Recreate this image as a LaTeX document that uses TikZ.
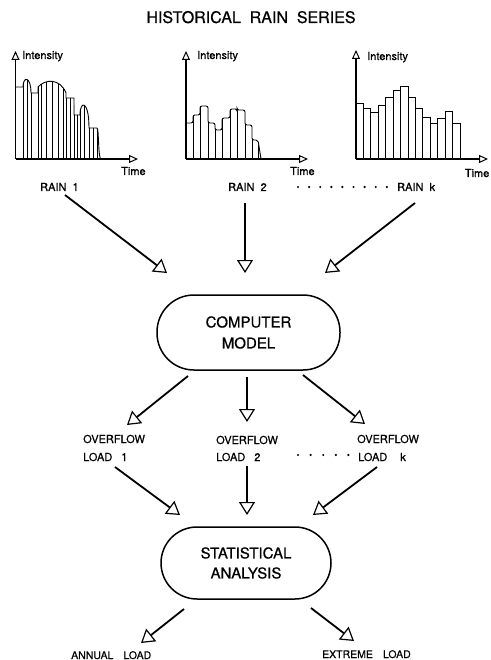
\documentclass[tikz,border=0pt]{standalone}
\usepackage{fontspec}
\setmainfont{TeX Gyre Heros}[FakeBold=0.6]
\usetikzlibrary{arrows.meta}
\begin{document}
\begin{tikzpicture}[x=1pt,y=-1pt,
  flow/.style={line width=1.8pt,-{Triangle[open,length=13pt,width=16pt,line width=1.2pt]}},
  axis/.style={line width=1.4pt,-{Triangle[open,length=9pt,width=8pt,line width=1pt]}},
  bars/.style={line width=0.8pt},
  lbl/.style={inner sep=0pt,anchor=base west,font=\fontsize{11}{13}\selectfont},
  small/.style={inner sep=0pt,anchor=base west,font=\fontsize{11}{13}\selectfont},
  procbox/.style={draw,line width=1.5pt,align=center,inner sep=0pt,font=\fontsize{15}{21}\selectfont},
  dot/.style={circle,fill,inner sep=0pt,minimum size=2.4pt}
]
\useasboundingbox (0,0) rectangle (490,660);

% title
\node[inner sep=0pt,anchor=base,font=\fontsize{16}{18}\selectfont] (title) at (251,23) {HISTORICAL\ \ RAIN\ \ SERIES};

% ---------- chart 1 ----------
\coordinate (o1) at (15.5,159);
\coordinate (y1) at (15.5,51);
\coordinate (x1) at (138,159);
\begin{scope}
\clip (16,159) -- (16,87) -- (23,87) .. controls (23,76) and (31,76) .. (31,93) -- (38,93) -- (38,87)
  .. controls (45,79) and (60,78) .. (66,93) -- (66,98) -- (74,98) -- (74,115) -- (80,115)
  .. controls (80,100) and (89,100) .. (89,128) -- (97,128) .. controls (99,128) and (98,159) .. (101,159) -- cycle;
\foreach \x in {23,27,31,38,41,46,52,58,63,66,70,74,77,80,84,89,93,97}
  \draw[bars] (\x,160) -- (\x,60);
\end{scope}
\draw[line width=0.9pt] (16,87) -- (23,87) .. controls (23,76) and (31,76) .. (31,93) -- (38,93) -- (38,87)
  .. controls (45,79) and (60,78) .. (66,93) -- (66,98) -- (74,98) -- (74,115) -- (80,115)
  .. controls (80,100) and (89,100) .. (89,128) -- (97,128) .. controls (99,128) and (98,159) .. (101,159);
\draw[axis] (o1) -- (y1);
\draw[axis] (o1) -- (x1);
\node[small] (int1) at (22,59) {Intensity};
\node[small] (time1) at (121,175) {Time};
\node[lbl] (rain1) at (40,191) {RAIN\ \ 1};

% ---------- chart 2 ----------
\coordinate (o2) at (186,159);
\coordinate (y2) at (186,51);
\coordinate (x2) at (308,159);
\begin{scope}
\clip[rounded corners=2pt] (186,159) -- (186,123) -- (193,123) -- (193,115) -- (200,115) -- (200,106) -- (208,106)
 -- (208,123) -- (215,123) -- (215,130) -- (222,130) -- (222,118) -- (230,118) -- (230,109) -- (237,109)
 -- (237,110) -- (245,110) -- (245,125) -- (252,125) -- (252,140) -- (258,140) -- (261,159) -- cycle;
\foreach \x in {193,200,208,215,222,230,237,245,252,258}
  \draw[bars] (\x,160) -- (\x,60);
\end{scope}
\draw[line width=0.9pt,rounded corners=2pt] (186,123) -- (193,123) -- (193,115) -- (200,115) -- (200,106) -- (208,106)
 -- (208,123) -- (215,123) -- (215,130) -- (222,130) -- (222,118) -- (230,118) -- (230,109) -- (237,109)
 -- (237,110) -- (245,110) -- (245,125) -- (252,125) -- (252,140) -- (258,140) -- (261,159);
\draw[axis] (o2) -- (y2);
\draw[axis] (o2) -- (x2);
\node[small] (int2) at (197,59) {Intensity};
\node[small] (time2) at (290,175) {Time};
\node[lbl] (rain2) at (228,191) {RAIN\ \ 2};

% ---------- chart 3 ----------
\coordinate (o3) at (356,159);
\coordinate (y3) at (356,50);
\coordinate (x3) at (488,159);
\foreach \h [count=\i from 0] in {103,108,112,105,97,90,86,97,108,117,123,118,111,123}
  \draw[bars] (356+7.43*\i,159) rectangle (356+7.43*\i+7.43,\h);
\draw[axis] (o3) -- (y3);
\draw[axis] (o3) -- (x3);
\node[small] (int3) at (367,60) {Intensity};
\node[small,anchor=base east] (time3) at (489.5,177) {Time};
\node[lbl] (raink) at (397,191) {RAIN\ \ k};

\foreach \i in {0,...,8}
  \node[dot] (rd\i) at (298+11.1*\i,187) {};

% ---------- computer model ----------
\node[procbox,rounded corners=37pt,minimum width=183pt,minimum height=75pt] (cm) at (248.5,332.5) {COMPUTER\\MODEL};

\coordinate (a1s) at (65,195);  \coordinate (a1e) at (167,273);
\coordinate (a2s) at (245,203); \coordinate (a2e) at (245,273);
\coordinate (a3s) at (415,203); \coordinate (a3e) at (325,273);
\draw[flow] (a1s) -- (a1e);
\draw[flow] (a2s) -- (a2e);
\draw[flow] (a3s) -- (a3e);

\coordinate (b1s) at (188,376); \coordinate (b1e) at (127,425);
\coordinate (b2s) at (247,377); \coordinate (b2e) at (247,422);
\coordinate (b3s) at (303,375); \coordinate (b3e) at (365,424);
\draw[flow] (b1s) -- (b1e);
\draw[flow] (b2s) -- (b2e);
\draw[flow] (b3s) -- (b3e);

% ---------- overflow loads ----------
\node[lbl] (ov1) at (83,443) {OVERFLOW};
\node[lbl] (ld1) at (83,461) {LOAD\hspace{9pt}1};
\node[lbl] (ov2) at (216,444) {OVERFLOW};
\node[lbl] (ld2) at (216,461) {LOAD\hspace{9pt}2};
\node[lbl] (ovk) at (357,443) {OVERFLOW};
\node[lbl] (ldk) at (358,461) {LOAD\hspace{13pt}k};
\foreach \i in {0,...,4}
  \node[dot] (od\i) at (298+12.6*\i,455) {};

\coordinate (c1s) at (115,467); \coordinate (c1e) at (180,515);
\coordinate (c2s) at (247,466); \coordinate (c2e) at (247,515);
\coordinate (c3s) at (377,467); \coordinate (c3e) at (313,515);
\draw[flow] (c1s) -- (c1e);
\draw[flow] (c2s) -- (c2e);
\draw[flow] (c3s) -- (c3e);

% ---------- statistical analysis ----------
\node[procbox,rounded corners=36pt,minimum width=170pt,minimum height=72pt,font=\fontsize{15}{20}\selectfont] (sa) at (246,563) {STATISTICAL\\ANALYSIS};

\coordinate (d1s) at (184,609); \coordinate (d1e) at (141,643);
\coordinate (d2s) at (311,608); \coordinate (d2e) at (354,641);
\draw[flow] (d1s) -- (d1e);
\draw[flow] (d2s) -- (d2e);

\node[lbl,font=\fontsize{10.5}{12}\selectfont] (annual) at (71,659) {ANNUAL\hspace{10pt}LOAD};
\node[lbl,font=\fontsize{10.5}{12}\selectfont] (extreme) at (322,658) {EXTREME\hspace{10pt}LOAD};
\end{tikzpicture}
\end{document}
